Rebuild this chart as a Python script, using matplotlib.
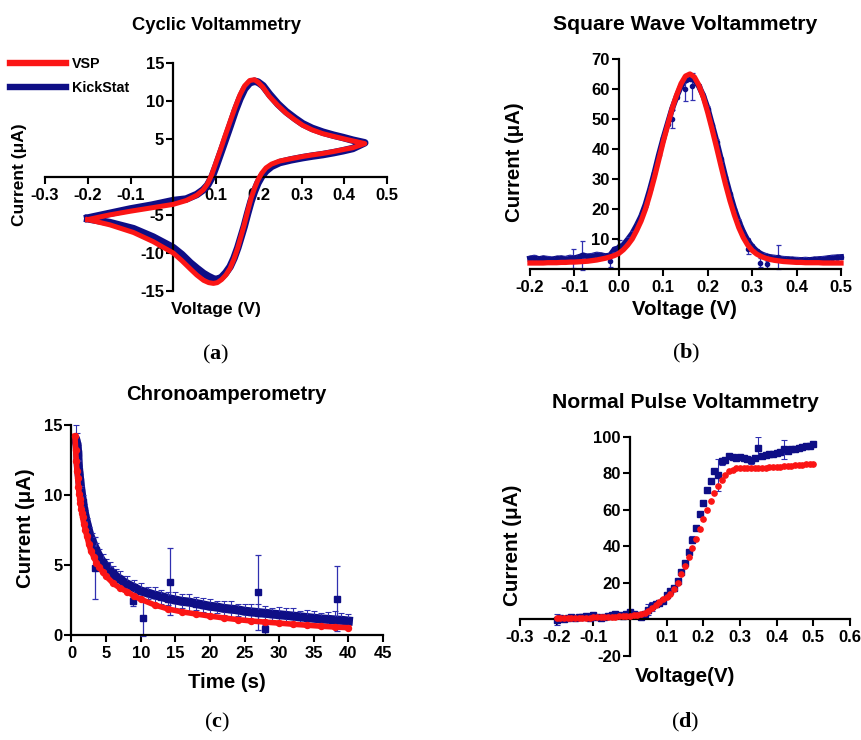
import numpy as np
import matplotlib
matplotlib.use('Agg')
import matplotlib.pyplot as plt
from matplotlib.lines import Line2D
from matplotlib.ticker import FormatStrFormatter

plt.rcParams['font.family'] = ['Liberation Sans', 'DejaVu Sans']
plt.rcParams['font.weight'] = 'bold'
plt.rcParams['axes.unicode_minus'] = False
plt.rcParams['mathtext.fontset'] = 'custom'
plt.rcParams['mathtext.rm'] = 'Liberation Serif'
plt.rcParams['mathtext.bf'] = 'Liberation Serif:bold'

RED = '#fb1515'
NAVY = '#0e0e86'
ERR = '#3030b0'

# ---------------- (a) Cyclic voltammetry ----------------
cv_vsp_v = [-0.20, -0.15, -0.10, -0.05, 0.00, 0.03, 0.055, 0.07, 0.08, 0.09, 0.10, 0.11,
            0.12, 0.133, 0.145, 0.156, 0.167, 0.179, 0.19, 0.198, 0.21, 0.225, 0.245,
            0.264, 0.285, 0.303, 0.325, 0.35, 0.375, 0.397, 0.42, 0.448,
            0.42, 0.397, 0.375, 0.35, 0.325, 0.303, 0.275, 0.249, 0.23, 0.217, 0.207,
            0.198, 0.19, 0.182, 0.174, 0.166, 0.158, 0.151, 0.142, 0.133, 0.123, 0.113,
            0.103, 0.094, 0.083, 0.071, 0.055, 0.04, 0.02, 0.0, -0.047, -0.093, -0.148, -0.20]
cv_vsp_i = [-5.6, -5.0, -4.5, -4.05, -3.6, -3.1, -2.4, -1.7, -0.9, 0.3, 1.9, 3.5,
            5.2, 7.3, 9.2, 10.8, 12.0, 12.7, 12.8, 12.5, 11.8, 10.6, 9.4,
            8.4, 7.5, 6.8, 6.2, 5.7, 5.35, 5.05, 4.75, 4.4,
            3.85, 3.6, 3.35, 3.1, 2.9, 2.7, 2.4, 2.1, 1.7, 1.2, 0.5,
            -0.4, -1.5, -2.8, -4.5, -6.3, -7.9, -9.3, -10.8, -12.0, -12.9, -13.5,
            -13.9, -14.0, -13.9, -13.6, -12.9, -12.1, -11.0, -10.0, -8.5, -7.3, -6.3, -5.6]
cv_kick_i = [-5.4, -4.8, -4.2, -3.7, -3.1, -2.9, -2.3, -1.7, -1.1, -0.1, 1.4, 3.0,
             4.6, 6.7, 8.7, 10.3, 11.6, 12.4, 12.6, 12.5, 12.0, 10.9, 9.6,
             8.6, 7.7, 7.0, 6.4, 5.9, 5.5, 5.2, 4.85, 4.5,
             3.75, 3.45, 3.2, 2.95, 2.75, 2.55, 2.25, 1.9, 1.4, 0.8, 0.1,
             -0.8, -1.9, -3.2, -4.8, -6.5, -8.0, -9.3, -10.7, -11.8, -12.6, -13.2,
             -13.5, -13.4, -13.1, -12.7, -12.0, -11.3, -10.2, -9.3, -7.9, -6.8, -6.0, -5.5]

# ---------------- (b) Square wave voltammetry ----------------
swv_v = np.round(np.arange(-0.20, 0.5001, 0.01), 2)
swv_vsp_i = [2.0, 2.0, 2.0, 2.0, 2.1, 2.1, 2.1, 2.2, 2.2, 2.3, 2.3,
             2.4, 2.5, 2.6, 2.8, 3.0, 3.3, 3.6, 4.0, 4.5, 5.2, 6.4, 8.0, 10.0, 12.8,
             16.0, 20.0, 25.0, 30.5, 36.5, 42.5, 48.0, 53.5, 58.0, 61.8, 64.3, 65.0,
             64.0, 61.3, 57.3, 52.2, 46.5, 40.5, 34.3, 28.3, 22.8, 18.0, 13.8, 10.5,
             8.0, 6.2, 5.0, 4.2, 3.6, 3.2, 2.9, 2.7, 2.5, 2.4, 2.3, 2.2,
             2.2, 2.1, 2.1, 2.1, 2.1, 2.0, 2.0, 2.0, 2.0, 2.0]
swv_kick_i = [3.5, 3.8, 3.3, 3.6, 3.4, 3.2, 3.5, 3.6, 3.4, 3.8, 3.6,
              4.0, 4.5, 4.2, 4.4, 4.8, 4.6, 4.3, 4.5, 6.5, 7.0, 8.0, 9.8, 11.8, 14.5,
              17.5, 21.5, 26.5, 32.0, 38.0, 43.5, 48.5, 53.5, 57.5, 61.0, 63.0, 63.5,
              63.0, 61.0, 57.8, 53.5, 48.0, 42.5, 36.5, 30.5, 25.0, 20.0, 15.8, 12.3,
              9.5, 7.5, 6.0, 5.0, 4.4, 4.0, 3.8, 3.6, 3.4, 3.3, 3.2, 3.1,
              3.0, 3.1, 3.0, 3.2, 3.3, 3.4, 3.6, 3.8, 3.9, 4.0]
swv_kick_err = [0.8] * 71
swv_out_v = [-0.103, -0.082, -0.02, 0.0, 0.12, 0.148, 0.165, 0.29, 0.318, 0.333, 0.358]
swv_out_i = [3.5, 4.5, 2.5, 7.5, 50.0, 60.0, 61.0, 6.5, 2.0, 1.5, 4.0]
swv_out_err = [3.2, 4.8, 2.0, 2.0, 3.0, 4.0, 4.5, 1.5, 1.5, 1.2, 4.0]

# ---------------- (c) Chronoamperometry ----------------
ca_vsp_t = [0.5, 0.6, 0.7, 0.8, 0.9, 1.0, 1.1, 1.2, 1.3, 1.4, 1.5, 1.6, 1.8, 2.0, 2.2,
            2.5, 2.8, 3.2, 3.6, 4.0, 4.5, 5.0, 6.0, 7.0, 8.0, 9.0, 10, 12, 14, 16, 18,
            20, 22, 24, 26, 28, 30, 32, 34, 36, 38, 40]
ca_vsp_i = [14.2, 13.2, 12.4, 11.7, 11.2, 10.6, 10.1, 9.7, 9.4, 9.0, 8.7, 8.4, 7.9, 7.5, 7.1,
            6.5, 6.0, 5.6, 5.15, 4.85, 4.5, 4.2, 3.7, 3.35, 3.1, 2.8, 2.55, 2.15, 1.85, 1.65, 1.5,
            1.35, 1.22, 1.1, 1.0, 0.92, 0.85, 0.77, 0.7, 0.63, 0.57, 0.52]
ca_kick_t = [0.7, 0.8, 0.9, 1.0, 1.1, 1.2, 1.4, 1.6, 1.8, 2.0, 2.3, 2.6, 3.0, 3.5, 4.0,
             4.5, 5, 5.5, 6, 6.5, 7, 7.5, 8, 9, 10, 11, 12, 13, 14, 15, 16, 17, 18, 19,
             20, 21, 22, 23, 24, 25, 26, 27, 28, 29, 30, 31, 32, 33, 34, 35, 36, 37, 38,
             39, 40]
ca_kick_i = [13.8, 13.6, 13.0, 12.0, 11.5, 11.0, 10.2, 9.5, 8.9, 8.4, 7.8, 7.2, 6.7, 6.1, 5.6,
             5.2, 4.9, 4.6, 4.4, 4.15, 4.0, 3.8, 3.65, 3.4, 3.15, 3.0, 2.85, 2.75, 2.6, 2.5,
             2.4, 2.35, 2.25, 2.15, 2.05, 2.0, 1.9, 1.85, 1.8, 1.7, 1.65, 1.6, 1.55, 1.5,
             1.45, 1.4, 1.35, 1.3, 1.25, 1.2, 1.15, 1.12, 1.08, 1.05, 1.0]
ca_kick_err = [1.2, 0.8, 0.6, 0.5, 0.5, 0.5, 0.45, 0.5, 0.45, 0.5, 0.55, 0.5, 0.6, 0.5, 0.55,
               0.6, 0.5, 0.65, 0.5, 0.55, 0.6, 0.45, 0.55, 0.5, 0.6, 0.45, 0.55, 0.5, 0.45,
               0.55, 0.5, 0.6, 0.45, 0.5, 0.55, 0.45, 0.5, 0.6, 0.45, 0.5, 0.55, 0.65, 0.5,
               0.45, 0.55, 0.5, 0.6, 0.45, 0.55, 0.5, 0.45, 0.55, 0.6, 0.5, 0.5]
ca_out_t = [3.4, 8.9, 10.3, 14.2, 26.9, 28.0, 38.3]
ca_out_i = [4.8, 2.4, 1.25, 3.8, 3.05, 0.4, 2.6]
ca_out_err = [2.2, 0.3, 1.3, 2.4, 2.7, 0.3, 2.3]

# ---------------- (d) Normal pulse voltammetry ----------------
npv_v = np.round(np.arange(-0.20, 0.5001, 0.01), 2)
npv_vsp_i = [0.3, 0.4, 0.5, 0.5, 0.6, 0.6, 0.7, 0.7, 0.8, 0.8, 0.9,
             0.9, 1.0, 1.0, 1.1, 1.2, 1.3, 1.4, 1.5, 1.6, 1.8, 2.0, 2.3, 2.7, 3.3,
             4.5, 5.8, 7.5, 9.3, 10.8, 12.3, 13.5, 16.5, 20.0, 24.5, 29.0, 34.0, 39.0,
             44.0, 49.5, 55.0, 60.0, 65.0, 69.0, 73.0, 76.5, 79.0, 81.0, 82.0, 82.6,
             82.9, 83.0, 83.0, 83.0, 83.0, 83.0, 83.1, 83.1, 83.2, 83.3, 83.4,
             83.5, 83.7, 83.9, 84.1, 84.3, 84.5, 84.7, 84.8, 84.9, 85.0]
npv_kick_i = [-0.5, 0.5, 0.0, 0.8, 1.0, 0.5, 1.2, 1.0, 1.5, 0.8, 2.0,
              1.0, 0.5, 1.2, 1.5, 2.0, 2.5, 2.2, 1.8, 2.5, 4.0, 3.0, 2.0, 1.0, 3.0,
              5.0, 7.0, 8.0, 9.0, 10.0, 13.0, 15.5, 17.0, 21.0, 26.0, 30.5, 36.5, 43.5,
              50.0, 57.5, 63.5, 70.5, 75.5, 81.0, 79.0, 86.5, 87.0, 89.5, 89.0, 88.5,
              89.0, 88.5, 87.5, 87.0, 88.5, 94.0, 89.5, 90.0, 90.5, 90.5, 91.0,
              91.5, 93.0, 92.0, 93.5, 93.5, 94.0, 94.5, 95.0, 95.0, 96.0]
npv_kick_err = [3.0, 1.0, 0.8, 0.8, 0.8, 0.8, 0.8, 0.8, 0.8, 0.8, 0.8,
                0.8, 0.8, 0.8, 0.8, 0.8, 0.8, 0.8, 0.8, 0.8, 1.0, 0.8, 0.8, 0.8, 0.8,
                3.0, 2.5, 0.8, 0.8, 0.8, 0.8, 0.8, 0.8, 0.8, 0.8, 0.8, 0.8, 2.0,
                0.8, 0.8, 0.8, 0.8, 0.8, 0.8, 9.0, 2.0, 0.8, 0.8, 0.8, 0.8,
                0.8, 0.8, 0.8, 2.0, 0.8, 6.0, 0.8, 0.8, 0.8, 0.8, 0.8,
                0.8, 5.0, 0.8, 0.8, 0.8, 0.8, 0.8, 0.8, 0.8, 0.8]

# ---------------- layout helpers ----------------
W, H = 862, 740
fig = plt.figure(figsize=(W / 100, H / 100), dpi=100)


def axes_px(l, t, r, b):
    return fig.add_axes([l / W, 1 - b / H, (r - l) / W, (b - t) / H])


def fxy(x, y):
    return x / W, 1 - y / H


def style(ax, lw=1.6):
    for s in ['top', 'right']:
        ax.spines[s].set_visible(False)
    for s in ['left', 'bottom']:
        ax.spines[s].set_linewidth(lw)
        ax.spines[s].set_color('black')
    ax.tick_params(axis='both', direction='out', length=5, width=1.5, labelsize=12,
                   colors='black')
    ax.tick_params(axis='y', pad=1.5)
    ax.tick_params(axis='x', pad=3)
    for lab in ax.get_xticklabels() + ax.get_yticklabels():
        lab.set_fontweight('bold')


def labels(ax, title, tpos, xl, xpos, yl, ypos, tsize, lsize):
    fig.text(*fxy(*tpos), title, ha='center', va='center', fontsize=tsize, fontweight='bold')
    ax.set_xlabel(xl, fontsize=lsize, fontweight='bold', va='center')
    ax.xaxis.set_label_coords(*fxy(*xpos), transform=fig.transFigure)
    ax.set_ylabel(yl, fontsize=lsize, fontweight='bold', va='center')
    ax.yaxis.set_label_coords(*fxy(*ypos), transform=fig.transFigure)


def panel(letter, pos):
    fig.text(*fxy(*pos), '($\\mathbf{' + letter + '}$)', ha='center', va='center',
             fontsize=16, family='Liberation Serif', fontweight='normal')


# ---------------- (a) ----------------
ax = axes_px(45, 63, 387, 291)
ax.plot(cv_vsp_v, cv_kick_i, color=NAVY, lw=5.4, solid_joinstyle='round', zorder=2)
ax.plot(cv_vsp_v, cv_vsp_i, color=RED, lw=3.6, solid_joinstyle='round', zorder=3)
ax.set_xlim(-0.3, 0.5)
ax.set_ylim(-15, 15)
ax.spines['left'].set_position(('data', 0))
ax.spines['bottom'].set_position(('data', 0))
ax.set_xticks([-0.3, -0.2, -0.1, 0.1, 0.2, 0.3, 0.4, 0.5])
ax.xaxis.set_major_formatter(FormatStrFormatter('%.1f'))
ax.set_yticks([-15, -10, -5, 5, 10, 15])
style(ax)
labels(ax, 'Cyclic Voltammetry', (217, 25), 'Voltage (V)', (216, 310),
       'Current (μA)', (20, 175), 13.2, 12.5)
handles = [Line2D([], [], color=RED, lw=4.6), Line2D([], [], color=NAVY, lw=4.6)]
fig.legend(handles, ['VSP', 'KickStat'], loc='upper left',
           bbox_to_anchor=fxy(10, 57), bbox_transform=fig.transFigure,
           frameon=False, handlelength=3.9, handletextpad=0.45,
           labelspacing=0.68, borderpad=0, borderaxespad=0,
           prop={'weight': 'bold', 'size': 10.3})
panel('a', (216, 354))

# ---------------- (b) ----------------
ax = axes_px(530, 59, 841, 269)
ax.plot(swv_v, swv_kick_i, color=NAVY, lw=4.2, zorder=2, clip_on=False)
ax.errorbar(swv_v, swv_kick_i, yerr=swv_kick_err, fmt='o', ms=3, color=NAVY, ecolor=ERR,
            elinewidth=0.8, capsize=1.5, capthick=0.8, zorder=2, clip_on=False)
ax.errorbar(swv_out_v, swv_out_i, yerr=swv_out_err, fmt='o', ms=3, color=NAVY, ecolor=ERR,
            elinewidth=0.9, capsize=1.8, capthick=0.9, zorder=2, clip_on=False)
ax.plot(swv_v, swv_vsp_i, color=RED, lw=3.8, zorder=3, clip_on=False)
ax.set_xlim(-0.2, 0.5)
ax.set_ylim(0, 70)
ax.spines['left'].set_position(('data', 0))
ax.set_xticks([-0.2, -0.1, 0.0, 0.1, 0.2, 0.3, 0.4, 0.5])
ax.xaxis.set_major_formatter(FormatStrFormatter('%.1f'))
ax.set_yticks([10, 20, 30, 40, 50, 60, 70])
style(ax)
labels(ax, 'Square Wave Voltammetry', (685, 25), 'Voltage (V)', (684, 309),
       'Current (μA)', (514, 162), 15.2, 14.7)
panel('b', (686, 353))

# ---------------- (c) ----------------
ax = axes_px(71.5, 425, 383, 635)
ax.plot(ca_kick_t, ca_kick_i, color=NAVY, lw=6.5, zorder=2, clip_on=False)
ax.errorbar(ca_kick_t, ca_kick_i, yerr=ca_kick_err, fmt='s', ms=4.5, color=NAVY,
            ecolor=ERR, elinewidth=0.8, capsize=2.4, capthick=0.8, zorder=2, clip_on=False)
ax.errorbar(ca_out_t, ca_out_i, yerr=ca_out_err, fmt='s', ms=4.5, color=NAVY,
            ecolor=ERR, elinewidth=0.9, capsize=2.4, capthick=0.9, zorder=2, clip_on=False)
ax.plot(ca_vsp_t, ca_vsp_i, color=RED, lw=4.0, zorder=3, clip_on=False)
ax.plot(ca_vsp_t, ca_vsp_i, 'o', ms=4.3, color=RED, zorder=3, clip_on=False)
ax.set_xlim(0, 45)
ax.set_ylim(0, 15)
ax.set_xticks(range(0, 46, 5))
ax.set_yticks([0, 5, 10, 15])
style(ax)
labels(ax, 'Chronoamperometry', (226, 394), 'Time (s)', (227, 682),
       'Current (μA)', (26, 528), 14.6, 14.7)
panel('c', (217, 722))

# ---------------- (d) ----------------
ax = axes_px(520, 436.7, 850, 655.5)
ax.errorbar(npv_v, npv_kick_i, yerr=npv_kick_err, fmt='s', ms=4.3, color=NAVY,
            ecolor=ERR, elinewidth=0.8, capsize=2.0, capthick=0.8, zorder=2)
ax.plot(npv_v, npv_vsp_i, 'o', ms=3.8, color=RED, zorder=3)
ax.set_xlim(-0.3, 0.6)
ax.set_ylim(-20, 100)
ax.spines['left'].set_position(('data', 0))
ax.spines['bottom'].set_position(('data', 0))
ax.set_xticks([-0.3, -0.2, -0.1, 0.1, 0.2, 0.3, 0.4, 0.5, 0.6])
ax.xaxis.set_major_formatter(FormatStrFormatter('%.1f'))
ax.set_yticks([-20, 20, 40, 60, 80, 100])
style(ax)
labels(ax, 'Normal Pulse Voltammetry', (685, 402), 'Voltage(V)', (685, 676),
       'Current (μA)', (513, 545), 15.2, 14.9)
panel('d', (685, 722))

fig.savefig('out.png', dpi=100)
